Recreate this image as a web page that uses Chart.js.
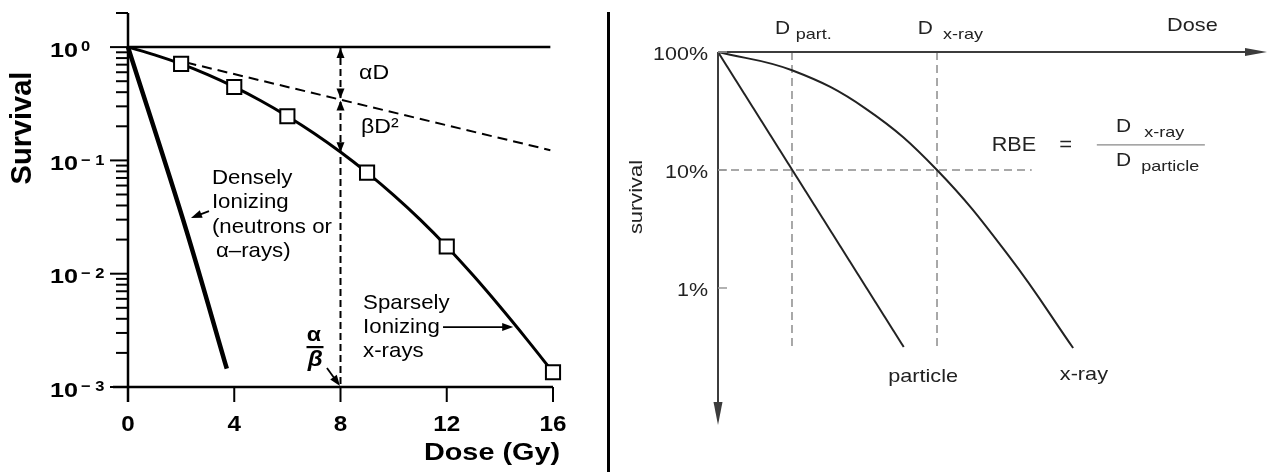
<!DOCTYPE html>
<html>
<head>
<meta charset="utf-8">
<title>Survival curves and RBE</title>
<script src="https://cdn.jsdelivr.net/npm/chart.js@4.4.1/dist/chart.umd.min.js"></script>
<style>
  html, body { margin: 0; padding: 0; background: #fff; }
  #wrap { position: relative; width: 1268px; height: 472px; overflow: hidden; }
  #left { position: absolute; left: 0; top: 0; }
  #right { position: absolute; left: 610px; top: 0; }
  #divider { position: absolute; left: 607px; top: 12px; width: 3px; height: 460px; background: #000; }
</style>
</head>
<body>
<div id="wrap">
  <canvas id="left" width="607" height="472" style="width:607px;height:472px"></canvas>
  <div id="divider"></div>
  <canvas id="right" width="658" height="472" style="width:658px;height:472px"></canvas>
</div>
<script>
// ---- left panel: cell survival vs dose (Gy) ----
const doseTicks = [0, 4, 8, 12, 16];
const survivalTicks = [1, 0.1, 0.01, 0.001];
const survivalExp = ["0", "\u2212 1", "\u2212 2", "\u2212 3"];

const xrayDose = [0, 1, 2, 3, 4, 5, 6, 7, 8, 9, 10, 11, 12, 13, 14, 15, 16];
const xraySurvival = [1, 0.855, 0.711, 0.571, 0.445, 0.336, 0.2455, 0.1738, 0.1186,
  0.078, 0.0494, 0.03, 0.01738, 0.00962, 0.00513, 0.00266, 0.00135];
const markerDose = [2, 4, 6, 9, 12, 16];
const markerSurvival = [0.711, 0.445, 0.2455, 0.078, 0.01738, 0.00135];
const denseDose = [0, 2.2, 3.72];
const denseSurvival = [1, 0.024, 0.00145];
const alphaDose = [2.2, 15.9];
const alphaSurvival = [0.73, 0.123];
const unityDose = [0, 15.9];
const unitySurvival = [1, 1];
const alphaBetaDose = 8;
const alphaBetaLevels = [1, 0.345, 0.118, 0.001];

// ---- right panel: RBE sketch (percent survival) ----
const pctTicks = [100, 10, 1];
const pctLabels = ["100%", "10%", "1%"];
const particleDose = [0, 2.51];
const particleSurvival = [100, 0.316];
const xrayRDose = [0, 1, 2, 2.96, 3.95, 4.8];
const xrayRSurvival = [100, 70, 33, 10, 1.8, 0.31];
const dPart = 1;
const dXray = 2.96;
const refLevel = 10;
const refEnd = 4.24;
const dropLevel = 0.316;

const FONT = '"Liberation Sans", Arial, Helvetica, sans-serif';

function pts(xs, ys) {
  return xs.map((v, i) => ({ x: v, y: ys[i] }));
}

function seg(ctx, x1, y1, x2, y2) {
  ctx.beginPath();
  ctx.moveTo(x1, y1);
  ctx.lineTo(x2, y2);
  ctx.stroke();
}

function text(ctx, str, x, y, font, align, sx, color) {
  ctx.save();
  ctx.font = font;
  ctx.fillStyle = color || "#000";
  ctx.textAlign = align || "left";
  ctx.textBaseline = "middle";
  ctx.translate(x, y);
  ctx.scale(sx || 1, 1);
  ctx.fillText(str, 0, 0);
  ctx.restore();
}

function head(ctx, tx, ty, fx, fy, len, half) {
  const a = Math.atan2(ty - fy, tx - fx);
  const bx = tx - len * Math.cos(a), by = ty - len * Math.sin(a);
  ctx.beginPath();
  ctx.moveTo(tx, ty);
  ctx.lineTo(bx + half * Math.sin(a), by - half * Math.cos(a));
  ctx.lineTo(bx - half * Math.sin(a), by + half * Math.cos(a));
  ctx.closePath();
  ctx.fill();
}

// pointer arrows, in data units
const leftArrows = [
  { from: [3.05, 0.0357], to: [2.37, 0.031] },
  { from: [11.86, 0.00338], to: [14.5, 0.00338] },
  { from: [7.49, 0.00147], to: [7.98, 0.00102] }
];

const leftDecor = {
  id: "leftDecor",
  afterDatasetsDraw(chart) {
    const { ctx, chartArea: a, scales } = chart;
    const px = v => scales.x.getPixelForValue(v);
    const py = v => scales.y.getPixelForValue(v);
    const x0 = px(0), yb = py(0.001);
    const reg = "21px " + FONT;
    ctx.save();
    ctx.strokeStyle = "#000";
    ctx.fillStyle = "#000";

    // axes
    ctx.lineWidth = 2.5;
    seg(ctx, x0, a.top, x0, yb + 15);
    seg(ctx, x0 - 15, yb, a.right, yb);

    ctx.lineWidth = 2;
    doseTicks.forEach(d => {
      seg(ctx, px(d), yb, px(d), yb + 15);
      text(ctx, String(d), px(d), yb + 38, "bold 22px " + FONT, "center", 1.1);
    });
    survivalTicks.forEach((v, i) => {
      const yy = py(v);
      seg(ctx, x0 - 18, yy, x0, yy);
      text(ctx, "10", x0 - 50, yy + 4, "bold 21px " + FONT, "right", 1.2);
      text(ctx, survivalExp[i], x0 - 47, yy, "bold 15px " + FONT, "left", 1.1);
    });
    for (let k = -3; k <= 0; k++) {
      for (let m = 2; m <= 9; m++) {
        const v = m * Math.pow(10, k);
        if (v > 2.001) break;
        seg(ctx, x0 - 12, py(v), x0, py(v));
      }
    }

    // axis titles
    text(ctx, "Dose (Gy)", a.right + 7, yb + 66, "bold 24px " + FONT, "right", 1.2);
    ctx.save();
    ctx.translate(23, 128);
    ctx.rotate(-Math.PI / 2);
    text(ctx, "Survival", 0, 0, "bold 29px " + FONT, "center", 1);
    ctx.restore();

    // arrowheads on the alpha/beta dose line
    const xd = px(alphaBetaDose);
    const yTop = py(alphaBetaLevels[0]);
    const yMid = py(alphaBetaLevels[1]);
    const yLow = py(alphaBetaLevels[2]);
    head(ctx, xd, yTop + 1, xd, yTop + 12, 10, 4);
    head(ctx, xd, yMid - 1, xd, yMid - 12, 10, 4);
    head(ctx, xd, yMid + 1, xd, yMid + 12, 10, 4);
    head(ctx, xd, yLow, xd, yLow - 12, 10, 4);

    // pointer arrows
    ctx.lineWidth = 1.8;
    leftArrows.forEach(ar => {
      const fx = px(ar.from[0]), fy = py(ar.from[1]);
      const tx = px(ar.to[0]), ty = py(ar.to[1]);
      const ang = Math.atan2(ty - fy, tx - fx);
      seg(ctx, fx, fy, tx - 8 * Math.cos(ang), ty - 8 * Math.sin(ang));
      head(ctx, tx, ty, fx, fy, 11, 4);
    });

    // labels
    text(ctx, "\u03b1D", px(8.7), py(0.59), reg, "left", 1.1);
    text(ctx, "\u03b2D\u00b2", px(8.77), py(0.197), reg, "left", 1.1);
    ["Densely", "Ionizing", "(neutrons or", "\u03b1\u2013rays)"].forEach((s, i) => {
      text(ctx, s, px(3.16) + (i === 3 ? 4 : 0), py(0.0698) + i * 24.5, reg, "left", 1.06);
    });
    ["Sparsely", "Ionizing", "x-rays"].forEach((s, i) => {
      text(ctx, s, px(8.85), py(0.0055) + i * 24, reg, "left", 1.06);
    });
    text(ctx, "\u03b1", px(7.0), py(0.00285), "bold 21px " + FONT, "center", 1.1);
    ctx.lineWidth = 2.2;
    seg(ctx, px(6.72), py(0.00225), px(7.36), py(0.00225));
    text(ctx, "\u03b2", px(7.05), py(0.00172), "bold italic 22px " + FONT, "center", 1.1);
    ctx.restore();
  }
};

const rightDecor = {
  id: "rightDecor",
  afterDatasetsDraw(chart) {
    const { ctx, chartArea: a, scales } = chart;
    const px = v => scales.x.getPixelForValue(v);
    const py = v => scales.y.getPixelForValue(v);
    const x0 = px(0), y0 = py(100);
    const ink = "#222";
    const big = "19px " + FONT, sub = "15px " + FONT;
    ctx.save();
    ctx.strokeStyle = "#3c3c3c";
    ctx.fillStyle = "#3c3c3c";
    ctx.lineWidth = 2;
    seg(ctx, x0, y0, x0, a.bottom - 18);
    head(ctx, x0, a.bottom, x0, a.bottom - 30, 23, 4.5);
    seg(ctx, x0, y0, a.right - 16, y0);
    head(ctx, a.right, y0, a.right - 30, y0, 22, 4);

    ctx.strokeStyle = "#999";
    ctx.lineWidth = 1.5;
    pctTicks.forEach((v, i) => {
      seg(ctx, x0, py(v), x0 + 9, py(v));
      text(ctx, pctLabels[i], x0 - 10, py(v) + 3, big, "right", 1.13, ink);
    });

    ctx.save();
    ctx.translate(x0 - 81, py(5.9));
    ctx.rotate(-Math.PI / 2);
    text(ctx, "survival", 0, 0, big, "center", 1.15, ink);
    ctx.restore();

    text(ctx, "D", px(0.77), py(156), big, "left", 1.1, ink);
    text(ctx, "part.", px(1.05), py(139), sub, "left", 1.2, ink);
    text(ctx, "D", px(2.7), py(156), big, "left", 1.1, ink);
    text(ctx, "x-ray", px(3.04), py(139), sub, "left", 1.2, ink);
    text(ctx, "Dose", px(6.07), py(168), big, "left", 1.14, ink);

    text(ctx, "RBE", px(3.7), py(16), "20px " + FONT, "left", 1.08, ink);
    text(ctx, "=", px(4.7), py(16), "20px " + FONT, "center", 1.1, ink);
    text(ctx, "D", px(5.38), py(23.1), big, "left", 1.1, ink);
    text(ctx, "x-ray", px(5.76), py(20.6), sub, "left", 1.2, ink);
    ctx.strokeStyle = "#888";
    ctx.lineWidth = 1.2;
    seg(ctx, px(5.12), py(16.3), px(6.58), py(16.3));
    text(ctx, "D", px(5.38), py(11.9), big, "left", 1.1, ink);
    text(ctx, "particle", px(5.72), py(10.6), sub, "left", 1.2, ink);

    text(ctx, "particle", px(2.3), py(0.176), big, "left", 1.14, ink);
    text(ctx, "x-ray", px(4.62), py(0.183), big, "left", 1.14, ink);
    ctx.restore();
  }
};

const lineDefaults = { showLine: true, pointRadius: 0, fill: false, clip: false, borderColor: "#000" };

new Chart(document.getElementById("left"), {
  type: "scatter",
  data: {
    datasets: [
      { data: pts(markerDose, markerSurvival), showLine: false, pointStyle: "rect",
        pointRadius: 10, pointBackgroundColor: "#fff", pointBorderColor: "#000",
        pointBorderWidth: 2, clip: false },
      { ...lineDefaults, data: pts(xrayDose, xraySurvival), borderWidth: 3,
        cubicInterpolationMode: "monotone" },
      { ...lineDefaults, data: pts(denseDose, denseSurvival), borderWidth: 4.5,
        cubicInterpolationMode: "monotone" },
      { ...lineDefaults, data: pts(unityDose, unitySurvival), borderWidth: 2.5 },
      { ...lineDefaults, data: pts(alphaDose, alphaSurvival), borderWidth: 2, borderDash: [10, 6] },
      { ...lineDefaults, data: [{ x: alphaBetaDose, y: alphaBetaLevels[0] }, { x: alphaBetaDose, y: alphaBetaLevels[3] }],
        borderWidth: 2, borderDash: [7, 4] }
    ]
  },
  options: {
    responsive: false,
    animation: false,
    events: [],
    layout: { padding: { left: 128, right: 54, top: 13, bottom: 85 } },
    plugins: { legend: { display: false }, tooltip: { enabled: false } },
    scales: {
      x: { type: "linear", min: 0, max: 16, display: false },
      y: { type: "logarithmic", min: 0.001, max: 2, display: false }
    }
  },
  plugins: [leftDecor]
});

const dashGrey = { ...lineDefaults, borderColor: "#8c8c8c", borderWidth: 1.5, borderDash: [8, 5] };

new Chart(document.getElementById("right"), {
  type: "scatter",
  data: {
    datasets: [
      { ...lineDefaults, data: pts(particleDose, particleSurvival), borderColor: "#222", borderWidth: 2 },
      { ...lineDefaults, data: pts(xrayRDose, xrayRSurvival), borderColor: "#222", borderWidth: 2,
        tension: 0.4 },
      { ...dashGrey, data: [{ x: dPart, y: 100 }, { x: dPart, y: dropLevel }] },
      { ...dashGrey, data: [{ x: dXray, y: 100 }, { x: dXray, y: dropLevel }] },
      { ...dashGrey, data: [{ x: 0, y: refLevel }, { x: refEnd, y: refLevel }] }
    ]
  },
  options: {
    responsive: false,
    animation: false,
    events: [],
    layout: { padding: { left: 108, right: 1, top: 52, bottom: 47 } },
    plugins: { legend: { display: false }, tooltip: { enabled: false } },
    scales: {
      x: { type: "linear", min: 0, max: 7.42, display: false },
      y: { type: "logarithmic", min: 0.069, max: 100, display: false }
    }
  },
  plugins: [rightDecor]
});
</script>
</body>
</html>
